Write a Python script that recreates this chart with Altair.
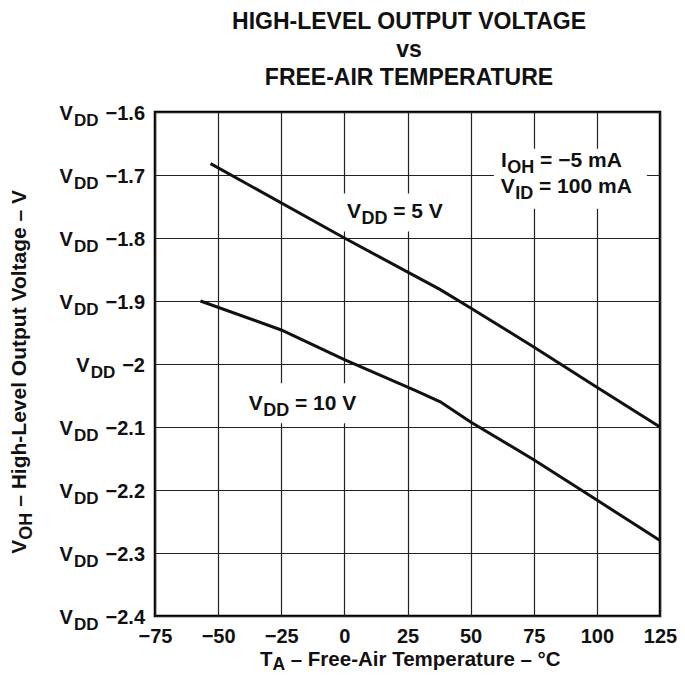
import altair as alt
import pandas as pd

# ---------------- data ----------------
temp_5v = [-53, 0, 38, 50, 75, 100, 125]
voh_5v = [-1.682, -1.800, -1.882, -1.911, -1.973, -2.037, -2.100]
temp_10v = [-57, -25, 0, 28, 38, 50, 75, 100, 125]
voh_10v = [-1.900, -1.946, -1.993, -2.042, -2.060, -2.092, -2.152, -2.216, -2.280]

x_ticks = [-75, -50, -25, 0, 25, 50, 75, 100, 125]
y_ticks = [-1.6, -1.7, -1.8, -1.9, -2.0, -2.1, -2.2, -2.3, -2.4]
y_tick_text = ["−1.6", "−1.7", "−1.8", "−1.9", "−2", "−2.1", "−2.2", "−2.3", "−2.4"]

title_lines = ["HIGH-LEVEL OUTPUT VOLTAGE", "vs", "FREE-AIR TEMPERATURE"]
x_title = ["T", "A", "– Free-Air Temperature – °C"]
y_title = ["V", "OH", "– High-Level Output Voltage – V"]

# curve / condition labels: main text, subscript, rest; anchored in data units
label_text = [("V", "DD", "= 5 V"), ("V", "DD", "= 10 V"),
              ("I", "OH", "= −5 mA"), ("V", "ID", "= 100 mA")]
label_temp = [1.0, -37.9, 62.0, 61.9]
label_voh = [-1.769, -2.0734, -1.6868, -1.729]

# ---------------- styling ----------------
FONT = "Liberation Sans"
INK = "#111111"
W, H = 505, 504
xs = alt.Scale(domain=[-75, 125], nice=False, zero=False)
ys = alt.Scale(domain=[-2.4, -1.6], nice=False, zero=False)

AX_X = alt.Axis(
    values=x_ticks, title=None, grid=True, ticks=False, domain=False,
    labelExpr="datum.value < 0 ? '−' + (-datum.value) : '' + datum.value",
    labelFont=FONT, labelFontWeight="bold", labelFontSize=20, labelColor=INK,
    labelPadding=10, labelFlush=False, labelOverlap=False)
AX_Y = alt.Axis(values=y_ticks, labels=False, title=None, grid=True, ticks=False,
                domain=False)

# Arial/Helvetica bold advance widths (per 1000 em) for layout of multi-part text
AW = {" ": 278, "=": 584, "−": 584, "–": 556, ".": 278, "-": 333, "°": 400,
      "V": 667, "D": 722, "I": 278, "O": 778, "H": 722, "A": 722, "T": 611, "C": 722,
      "F": 611, "L": 611, "m": 889, "a": 556, "r": 389, "e": 556, "i": 278, "p": 611,
      "u": 611, "t": 333, "h": 611, "g": 611, "v": 556, "l": 278, "o": 611}
for d in "0123456789":
    AW[d] = 556


def tw(s, size):
    return sum(AW.get(c, 556) for c in s) * size / 1000.0


def txt(df, size, x, y, text=None, field=None, dx=0, dy=0, align="left", angle=0):
    kw = dict(font=FONT, fontWeight="bold", fontSize=size, dx=dx, dy=dy,
              align=align, baseline="alphabetic", color=INK)
    if angle:
        kw["angle"] = angle
    if text is not None:
        kw["text"] = text
    enc = dict(x=x, y=y)
    if field is not None:
        enc["text"] = alt.Text(field + ":N")
    return alt.Chart(df).mark_text(**kw).encode(**enc)


def xe():
    return alt.X("T:Q", scale=xs, axis=AX_X)


def ye():
    return alt.Y("V:Q", scale=ys, axis=AX_Y)


one = pd.DataFrame({"k": [0]})
layers = []

# curves
curves = pd.DataFrame({
    "T": temp_5v + temp_10v,
    "V": voh_5v + voh_10v,
    "s": ["5 V"] * len(temp_5v) + ["10 V"] * len(temp_10v),
})
line = alt.Chart(curves).mark_line(color=INK, strokeWidth=3).encode(
    x=xe(), y=ye(), detail="s:N")

# white boxes behind labels (they interrupt the grid as in the reference)
box_paths = ["M-9,-25H112V13H-9Z", "M-8,-27H121V13H-8Z", "M-7,-18H146V42H-7Z"]
for i, p in enumerate(box_paths):
    df = pd.DataFrame({"T": [label_temp[i]], "V": [label_voh[i]]})
    layers.append(
        alt.Chart(df).mark_point(shape=p, size=4, filled=True, color="white",
                                 opacity=1, strokeWidth=0).encode(x=xe(), y=ye()))

layers.append(line)

# curve / condition labels with subscripts (the space before "=" is added as offset,
# because SVG drops leading blanks)
MAIN, SUB = 21, 18
for (m, s, r), t, v in zip(label_text, label_temp, label_voh):
    df = pd.DataFrame({"T": [t], "V": [v]})
    wm, wsub = tw(m, MAIN), tw(s, SUB)
    layers.append(txt(df, MAIN, xe(), ye(), text=m))
    layers.append(txt(df, SUB, xe(), ye(), text=s, dx=wm + 0.5, dy=6))
    layers.append(txt(df, MAIN, xe(), ye(), text=r, dx=wm + wsub + 0.5 + tw(" ", MAIN)))

# y tick labels: "V", subscript "DD", number; right aligned
NUM, VS, DDS = 20, 20, 17
ydf = pd.DataFrame({"V": y_ticks, "num": y_tick_text})
ydf["w"] = [round(tw(s, NUM), 1) for s in y_tick_text]
for wnum, grp in ydf.groupby("w"):
    layers.append(txt(grp, NUM, alt.value(-10), ye(), field="num", align="right", dy=8))
    xdd = -10 - wnum - 7
    layers.append(txt(grp, DDS, alt.value(xdd), ye(), text="DD", align="right", dy=13.5))
    xv = xdd - tw("DD", DDS) - 1
    layers.append(txt(grp, VS, alt.value(xv), ye(), text="V", align="right", dy=8))

# chart title (three centred lines)
for line_text, by in zip(title_lines, [-82.7, -55.3, -27]):
    layers.append(txt(one, 23, alt.value(254), alt.value(by), text=line_text, align="center"))

# x-axis title with subscript
TS, TSS = 20.5, 17.5
sp = tw(" ", TS)
wt = [tw(x_title[0], TS), tw(x_title[1], TSS), tw(x_title[2], TS)]
x0 = 256 - (sum(wt) + sp) / 2
XT_Y = H + 50
layers.append(txt(one, TS, alt.value(x0), alt.value(XT_Y), text=x_title[0]))
layers.append(txt(one, TSS, alt.value(x0 + wt[0]), alt.value(XT_Y), text=x_title[1], dy=4))
layers.append(txt(one, TS, alt.value(x0 + wt[0] + wt[1] + sp), alt.value(XT_Y),
                  text=x_title[2]))

# y-axis title (rotated) with subscript
TY, TYS = 21, 18
spy = tw(" ", TY)
wy = [tw(y_title[0], TY), tw(y_title[1], TYS), tw(y_title[2], TY)]
y0 = 259 + (sum(wy) + spy) / 2
YT_X = -129
layers.append(txt(one, TY, alt.value(YT_X), alt.value(y0), text=y_title[0], angle=270))
layers.append(txt(one, TYS, alt.value(YT_X), alt.value(y0), text=y_title[1], angle=270,
                  dx=wy[0], dy=6))
layers.append(txt(one, TY, alt.value(YT_X), alt.value(y0), text=y_title[2], angle=270,
                  dx=wy[0] + wy[1] + spy))

chart = alt.layer(*layers).properties(
    width=W, height=H,
    autosize=alt.AutoSizeParams(type="none"),
    padding={"left": 147, "top": 104, "right": 17, "bottom": 58},
).configure_view(
    stroke="black", strokeWidth=2.5
).configure_axis(
    gridColor="#222222", gridWidth=1.2, gridOpacity=1
)

chart.save("out.html", embed_options={"renderer": "svg", "actions": False})
